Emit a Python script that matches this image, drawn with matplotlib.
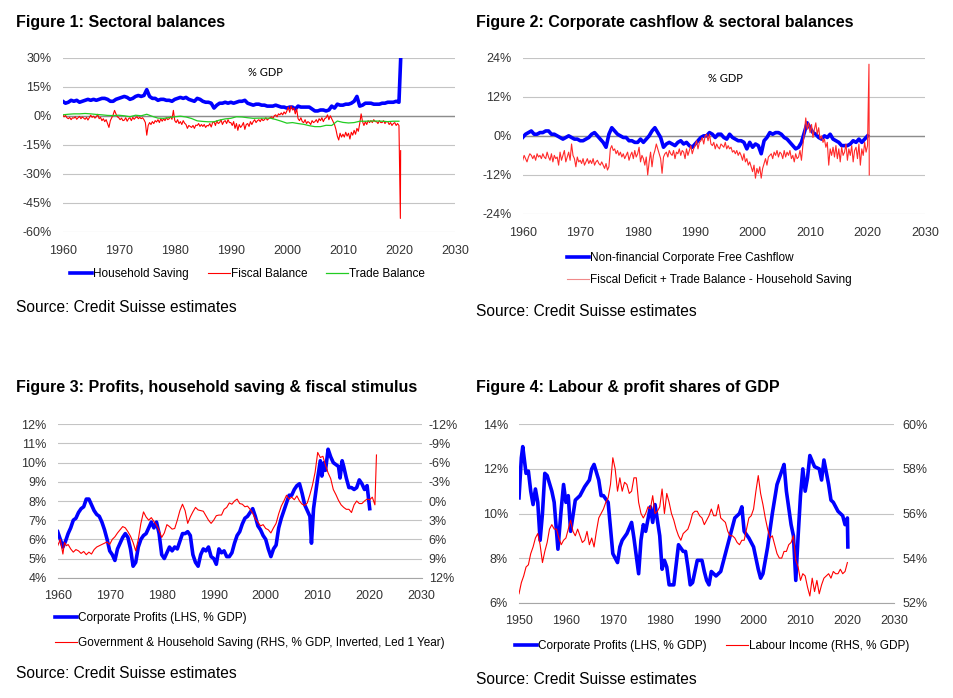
import numpy as np
import matplotlib
matplotlib.use('Agg')
import matplotlib.pyplot as plt
from matplotlib.ticker import FuncFormatter, MultipleLocator

plt.rcParams['font.family'] = ['Liberation Sans', 'DejaVu Sans']

# ---------------- Figure 1: sectoral balances (% GDP) ----------------
hh_saving = [
    7.5, 6.5, 7.0, 8.0, 7.5, 8.0, 7.0, 7.5, 8.0, 8.5,
    8.0, 8.5, 8.0, 8.5, 9.0, 9.0, 8.5, 7.5, 7.5, 8.5,
    9.0, 9.5, 10.0, 9.5, 8.5, 9.0, 10.0, 10.5, 10.0, 10.5,
    13.5, 10.0, 9.0, 9.0, 8.0, 8.5, 8.5, 8.0, 8.0, 7.5,
    8.5, 9.0, 9.5, 9.0, 9.5, 8.5, 8.0, 7.5, 9.0, 8.5,
    7.5, 7.0, 7.0, 6.5, 4.0, 5.5, 6.5, 6.5, 7.0, 6.5,
    7.0, 6.5, 7.0, 7.5, 7.5, 8.0, 6.5, 6.0, 5.5, 6.0,
    6.0, 5.5, 5.5, 5.0, 5.0, 5.0, 5.5, 5.0, 4.5, 4.5,
    4.0, 4.5, 4.5, 3.5, 5.0, 4.5, 4.5, 4.5, 4.5, 3.5,
    2.5, 2.5, 3.0, 3.0, 2.5, 3.0, 5.0, 4.0, 6.0, 5.5,
    5.5, 6.0, 6.0, 6.5, 7.5, 10.0, 5.0, 5.5, 6.5, 6.5,
    6.5, 6.0, 6.0, 6.0, 6.5, 6.5, 7.0, 7.0, 7.0, 7.5,
    7.0, 29.0,
]
hh_t = list(np.arange(1960, 2020.01, 0.5)) + [2020.3]

fiscal_bal = [
    0.5, -0.5, 0.2, -1.0, -1.5, -0.8, -2.0, -1.0, -1.2, -0.5, -1.8, -1.0,
    -0.3, -1.5, -0.6, -1.2, -1.8, -0.8, -2.2, -1.0, 0.3, -0.8, -0.2, -1.2,
    -0.5, 0.8, -1.5, -0.8, -2.5, -1.5, -3.0, -2.0, -4.0, -6.0, -2.5, -1.0,
    0.5, 2.8, 1.0, -0.5, -1.0, -2.0, -1.2, -2.5, -2.2, -1.0, -2.8, -1.5,
    -1.0, -2.5, -0.8, -1.8, -1.0, -0.5, -1.5, -0.8, -1.5, -1.0, -2.0, -3.5,
    -10.0, -5.0, -3.5, -4.5, -3.0, -4.0, -2.5, -3.2, -2.0, -3.5, -1.5, -2.8,
    -1.5, -2.5, -1.0, -2.0, -1.5, -0.5, -1.8, 2.8, -2.5, -3.5, -2.0, -4.0,
    -3.0, -4.5, -2.5, -3.8, -4.5, -6.5, -5.0, -5.5, -6.0, -5.0, -6.5, -4.8,
    -5.0, -4.0, -5.5, -4.5, -5.5, -4.5, -6.0, -5.0, -5.2, -4.0, -5.8, -3.5,
    -3.0, -5.0, -2.5, -4.0, -3.5, -2.0, -4.5, -3.0, -2.5, -4.0, -2.0, -3.5,
    -3.5, -5.0, -3.0, -6.5, -4.0, -7.5, -4.5, -6.0, -5.0, -3.5, -7.0, -4.5,
    -4.0, -5.5, -3.0, -4.5, -3.0, -2.0, -3.5, -2.5, -2.0, -3.0, -1.5, -2.5,
    -2.0, -1.0, -2.2, -1.5, -1.0, -0.5, -1.5, 0.0, 0.5, -0.5, 1.0, 0.5,
    1.5, 0.5, 2.0, 1.0, 2.5, 4.5, 1.8, 5.0, 3.0, 4.0, 1.0, 3.5,
    -1.5, -2.5, -1.0, -3.0, -3.5, -2.0, -4.0, -3.0, -3.5, -4.5, -2.5, -3.5,
    -3.0, -2.0, -3.5, -1.5, -2.5, -1.0, -3.0, -1.5, -1.0, 0.5, -2.0, 0.0,
    -1.5, -3.0, -4.5, -7.0, -10.5, -12.5, -9.0, -11.0, -9.5, -11.0, -8.5, -10.5,
    -9.0, -12.0, -8.5, -10.0, -7.5, -9.5, -6.5, -8.0, -4.0, 1.0, -3.0, -5.0,
    -3.0, -4.5, -2.5, -3.5, -2.5, -3.5, -2.0, -3.0, -3.0, -4.0, -2.5, -3.5,
    -3.5, -2.5, -4.0, -3.0, -3.0, -4.5, -3.5, -5.0, -4.0, -3.5, -5.0, -4.0,
    -5.0, -53.0, -18.0,
]
fiscal_t = list(np.arange(1960, 2020.01, 0.25)) + [2020.25, 2020.3]

trade_bal = [
    0.5, 0.8, 1.0, 1.0, 1.2, 1.0, 0.7, 0.5, 0.2, 0.1,
    0.3, 0.0, -0.5, 0.3, 0.0, 0.8, -0.3, -1.2, -1.3, -0.9,
    -0.5, -0.2, -0.6, -1.4, -2.6, -2.9, -3.1, -3.1, -2.2, -1.6,
    -1.3, -0.5, -0.6, -1.0, -1.3, -1.2, -1.2, -1.2, -1.9, -2.8,
    -3.8, -3.5, -4.0, -4.4, -5.1, -5.6, -5.6, -4.9, -5.0, -2.7,
    -3.4, -3.7, -3.5, -2.8, -2.8, -2.7, -2.7, -2.8, -3.0, -2.8,
    -2.8,
]
trade_t = list(range(1960, 2021))

# ---------------- Figure 2: corporate cashflow ----------------
corp_fcf = [
    -0.5, 0.5, 1.0, 1.5, 0.5, 0.5, 1.0, 1.0, 1.5, 1.5,
    0.5, 0.5, 0.0, -0.5, -1.0, -0.5, 0.0, -0.5, -1.0, -1.0,
    -1.5, -1.5, -1.0, -0.5, 0.5, 1.0, 0.0, -1.0, -2.0, -3.5,
    0.5, 2.5, 1.5, 0.5, 0.0, -0.5, -0.5, -1.5, -1.5, -2.0,
    -2.0, -1.0, -2.0, -1.0, 0.0, 1.5, 2.5, 1.0, -0.5, -3.5,
    -2.5, -2.0, -2.5, -3.0, -2.0, -1.5, -2.5, -2.0, -3.0, -3.5,
    -2.5, -1.5, -0.5, 0.0, 0.0, 1.0, 0.5, -0.5, 0.5, 0.5,
    -0.5, -1.0, 0.5, -0.5, -1.0, -1.5, -1.5, -2.0, -4.0, -2.0,
    -3.5, -2.5, -3.0, -5.5, -1.5, -0.5, 1.0, 0.5, 1.0, 1.0,
    0.5, -0.5, -1.0, -2.0, -3.0, -4.0, -3.5, -2.0, 1.0, 4.0,
    2.5, 1.0, 0.5, -0.5, -1.0, 0.0, -0.5, 0.5, -1.0, -1.5,
    -2.0, -3.0, -3.0, -3.0, -2.5, -1.5, -2.0, -1.0, -2.0, -1.0,
    0.0,
]
fcf_t = list(np.arange(1960, 2020.01, 0.5))

gap_bal = [
    -7.5, -6.0, -7.0, -8.0, -6.5, -5.5, -6.0, -7.0, -6.0, -7.5, -5.5, -6.5,
    -6.0, -7.0, -5.5, -6.5, -7.0, -5.0, -6.5, -7.5, -5.5, -8.0, -6.0, -7.0,
    -6.5, -9.0, -5.0, -7.5, -6.0, -4.5, -8.0, -6.5, -5.0, -7.5, -2.5, -6.0,
    -7.0, -9.5, -6.5, -8.0, -7.5, -8.5, -7.0, -9.0, -8.0, -7.0, -8.5, -7.5,
    -8.5, -7.0, -9.0, -8.0, -7.5, -8.5, -9.0, -8.0, -9.0, -10.0, -8.5, -10.5,
    -9.5, -4.0, -3.0, -4.5, -4.0, -5.5, -4.5, -6.0, -5.0, -6.5, -5.5, -7.0,
    -6.0, -5.0, -7.5, -6.0, -5.0, -7.0, -4.5, -6.5, -5.5, -3.5, -8.0, -6.0,
    -7.0, -9.0, -6.5, -12.0, -8.0, -5.0, -9.5, -6.0, -4.5, -2.5, -4.0, -5.5,
    -7.0, -11.5, -6.5, -5.5, -5.0, -6.5, -4.5, -5.5, -6.0, -4.5, -7.0, -5.0,
    -5.5, -4.0, -6.0, -4.5, -5.0, -7.0, -4.0, -6.0, -4.5, -3.0, -5.5, -4.0,
    -3.0, -1.5, -4.0, -2.0, -1.5, -0.5, -2.5, 0.0, 0.5, -1.5, 0.5, -2.5,
    -3.0, -2.0, -4.0, -2.5, -3.5, -4.0, -2.5, -3.0, -3.5, -2.0, -4.0, -3.0,
    -4.0, -3.5, -5.0, -4.5, -5.5, -4.5, -6.0, -5.0, -6.0, -7.5, -5.5, -8.0,
    -7.0, -9.0, -8.0, -9.5, -11.0, -9.0, -13.0, -10.0, -11.5, -9.5, -13.0, -10.0,
    -8.5, -7.0, -9.0, -6.5, -6.0, -5.5, -7.0, -5.0, -6.0, -4.5, -6.5, -5.0,
    -5.5, -7.0, -4.5, -6.5, -5.0, -6.0, -4.5, -7.0, -6.0, -8.0, -5.5, -7.0,
    -6.5, -4.5, -7.5, -3.0, 1.0, 5.5, 2.0, 4.0, 1.0, 3.5, -0.5, 2.0,
    4.0, 0.5, 2.5, -1.0, 0.0, -2.0, -1.0, -3.5, -2.0, -9.0, -4.0, -6.0,
    -3.5, -6.5, -3.0, -7.0, -4.0, -8.0, -3.5, -6.0, -5.0, -2.5, -7.5, -4.0,
    -6.0, -3.0, -8.0, -4.5, -3.5, -7.0, -2.5, -9.0, -4.0, -6.0, -2.0, -5.0,
    -3.0, 22.0, -12.0,
]
gap_t = list(np.arange(1960, 2020.01, 0.25)) + [2020.25, 2020.3]

# ---------------- Figure 3: profits vs government & household saving ----------------
prof3_t = [
    1960.0, 1960.5, 1961.0, 1961.5, 1962.0, 1962.5, 1963.0, 1963.5, 1964.0, 1964.5,
    1965.0, 1965.5, 1966.0, 1966.5, 1967.0, 1967.5, 1968.0, 1968.5, 1969.0, 1969.5,
    1970.0, 1970.5, 1971.0, 1971.5, 1972.0, 1972.5, 1973.0, 1973.5, 1974.0, 1974.5,
    1975.0, 1975.5, 1976.0, 1976.5, 1977.0, 1977.5, 1978.0, 1978.5, 1979.0, 1979.5,
    1980.0, 1980.5, 1981.0, 1981.5, 1982.0, 1982.5, 1983.0, 1983.5, 1984.0, 1984.5,
    1985.0, 1985.5, 1986.0, 1986.5, 1987.0, 1987.5, 1988.0, 1988.5, 1989.0, 1989.5,
    1990.0, 1990.5, 1991.0, 1991.5, 1992.0, 1992.5, 1993.0, 1993.5, 1994.0, 1994.5,
    1995.0, 1995.5, 1996.0, 1996.5, 1997.0, 1997.5, 1998.0, 1998.5, 1999.0, 1999.5,
    2000.0, 2000.5, 2001.0, 2001.5, 2002.0, 2002.5, 2003.0, 2003.5, 2004.0, 2004.5,
    2005.0, 2005.5, 2006.0, 2006.5, 2007.0, 2007.5, 2008.0, 2008.5, 2008.8, 2009.2,
    2009.5, 2010.0, 2010.5, 2010.8, 2011.2, 2011.5, 2012.0, 2012.5, 2013.0, 2013.5,
    2014.0, 2014.3, 2014.7, 2015.0, 2015.5, 2016.0, 2016.5, 2017.0, 2017.5, 2018.0,
    2018.5, 2019.0, 2019.5, 2020.0,
]
prof3 = [
    6.4, 6.0, 5.6, 5.9, 6.3, 6.6, 7.0, 7.1, 7.4, 7.6,
    7.7, 8.1, 8.1, 7.8, 7.5, 7.3, 7.2, 6.9, 6.5, 6.0,
    5.4, 5.2, 4.9, 5.5, 5.8, 6.1, 6.3, 6.1, 5.5, 4.6,
    4.8, 5.6, 6.0, 6.2, 6.3, 6.6, 6.9, 6.6, 6.9, 6.3,
    5.2, 5.0, 5.3, 5.6, 5.4, 5.6, 5.5, 5.9, 6.3, 6.3,
    6.4, 6.2, 5.2, 4.8, 4.6, 5.2, 5.5, 5.4, 5.6, 5.1,
    5.0, 4.7, 5.5, 5.3, 5.4, 5.1, 5.1, 5.3, 5.8, 6.2,
    6.4, 6.8, 7.1, 7.2, 7.4, 7.6, 7.2, 6.7, 6.5, 6.2,
    6.0, 5.5, 5.1, 5.5, 5.7, 6.6, 7.1, 7.5, 7.9, 8.3,
    8.3, 8.6, 8.8, 8.9, 8.4, 7.8, 7.5, 7.2, 5.8, 7.6,
    8.2, 9.2, 10.1, 9.3, 10.0, 9.6, 10.7, 10.3, 10.0, 9.9,
    9.8, 9.2, 10.1, 9.8, 9.2, 8.7, 8.7, 8.6, 8.7, 9.1,
    8.9, 8.6, 8.8, 7.6,
]

sav3_t = [
    1960.0, 1960.5, 1961.0, 1961.3, 1961.7, 1962.0, 1962.5, 1963.0, 1963.5, 1964.0,
    1964.5, 1965.0, 1965.5, 1966.0, 1966.5, 1967.0, 1967.5, 1968.0, 1968.5, 1969.0,
    1969.5, 1970.0, 1970.5, 1971.0, 1971.5, 1972.0, 1972.5, 1973.0, 1973.5, 1974.0,
    1974.5, 1975.0, 1975.5, 1976.0, 1976.5, 1977.0, 1977.5, 1978.0, 1978.5, 1979.0,
    1979.5, 1980.0, 1980.5, 1981.0, 1981.5, 1982.0, 1982.5, 1983.0, 1983.5, 1984.0,
    1984.5, 1985.0, 1985.5, 1986.0, 1986.5, 1987.0, 1987.5, 1988.0, 1988.5, 1989.0,
    1989.5, 1990.0, 1990.5, 1991.0, 1991.5, 1992.0, 1992.5, 1993.0, 1993.5, 1994.0,
    1994.5, 1995.0, 1995.5, 1996.0, 1996.5, 1997.0, 1997.5, 1998.0, 1998.5, 1999.0,
    1999.5, 2000.0, 2000.5, 2001.0, 2001.5, 2002.0, 2002.5, 2003.0, 2003.5, 2004.0,
    2004.5, 2005.0, 2005.5, 2006.0, 2006.5, 2007.0, 2007.5, 2008.0, 2008.5, 2009.0,
    2009.5, 2010.0, 2010.5, 2011.0, 2011.5, 2012.0, 2012.5, 2013.0, 2013.5, 2014.0,
    2014.5, 2015.0, 2015.5, 2016.0, 2016.5, 2017.0, 2017.5, 2018.0, 2018.5, 2019.0,
    2019.5, 2020.0, 2020.5, 2021.0, 2021.3,
]
sav3 = [
    7.0, 6.0, 8.3, 6.5, 7.0, 6.8, 7.5, 8.0, 7.6, 7.8,
    8.2, 7.9, 8.4, 8.0, 8.3, 7.6, 7.2, 7.0, 6.8, 6.6,
    6.4, 6.8, 6.0, 5.6, 5.0, 4.5, 4.0, 4.2, 4.8, 5.5,
    6.5, 7.8, 6.0, 3.5, 1.7, 2.5, 3.0, 2.6, 3.2, 3.8,
    4.6, 5.7, 5.0, 3.7, 4.0, 4.4, 4.3, 3.0, 1.5, 0.5,
    1.5, 3.5, 2.5, 1.7, 1.0, 1.4, 1.5, 1.6, 2.3, 3.0,
    3.5, 3.0, 2.3, 2.2, 2.2, 1.3, 1.0, 0.3, 0.5, 0.0,
    -0.3, 0.4, 0.5, 0.9, 0.8, 1.3, 1.9, 2.8, 3.3, 3.9,
    3.7, 4.3, 4.5, 5.0, 4.2, 3.5, 2.0, 0.8, 0.0, -0.9,
    -0.3, -0.6, -0.2, -0.8, 0.0, 0.5, 0.7, 0.3, -1.0, -2.5,
    -4.5, -7.6, -6.8, -7.0, -5.6, -4.4, -3.5, -1.8, -1.0, -0.1,
    0.6, 1.0, 1.3, 1.3, 1.8, 0.6, 0.0, 0.4, 0.4, 0.0,
    -0.3, -0.2, -0.6, 0.6, -7.2,
]

# ---------------- Figure 4: labour & profit shares ----------------
prof4_t = [
    1950.0, 1950.5, 1950.8, 1951.5, 1952.0, 1952.5, 1953.0, 1953.5, 1954.0, 1954.5,
    1955.0, 1955.5, 1956.0, 1957.0, 1957.5, 1958.3, 1959.0, 1959.5, 1960.0, 1960.5,
    1961.0, 1962.0, 1963.0, 1964.0, 1965.0, 1965.5, 1966.0, 1967.0, 1967.5, 1968.0,
    1969.0, 1970.0, 1971.0, 1971.5, 1972.0, 1973.0, 1974.0, 1974.5, 1975.5, 1976.0,
    1976.5, 1977.0, 1978.0, 1978.5, 1979.0, 1980.0, 1980.5, 1981.0, 1981.5, 1982.0,
    1983.0, 1984.0, 1985.0, 1985.5, 1986.0, 1986.5, 1987.0, 1988.0, 1989.0, 1989.5,
    1990.0, 1990.5, 1991.0, 1992.0, 1993.0, 1994.0, 1995.0, 1996.0, 1997.0, 1997.5,
    1998.0, 1999.0, 2000.0, 2001.0, 2001.5, 2002.0, 2003.0, 2004.0, 2005.0, 2006.0,
    2006.5, 2007.0, 2008.0, 2008.5, 2009.0, 2009.5, 2010.0, 2010.5, 2011.0, 2011.5,
    2012.0, 2013.0, 2014.0, 2014.5, 2015.0, 2016.0, 2016.5, 2017.0, 2018.0, 2019.0,
    2019.5, 2020.0, 2020.1,
]
prof4 = [
    10.7, 12.5, 13.0, 11.8, 11.9, 11.0, 10.4, 11.1, 10.5, 8.8,
    10.0, 11.8, 11.7, 11.0, 10.5, 8.4, 10.2, 11.3, 10.5, 10.8,
    9.2, 10.6, 10.8, 11.2, 11.5, 12.0, 12.2, 11.5, 10.8, 10.8,
    10.5, 8.2, 7.8, 8.5, 8.8, 9.1, 9.6, 8.9, 7.3, 8.8,
    9.5, 9.2, 10.3, 9.6, 10.4, 9.0, 7.5, 7.9, 7.6, 6.8,
    6.8, 8.6, 8.3, 8.3, 7.6, 6.8, 6.9, 7.9, 7.9, 7.4,
    7.0, 6.8, 7.4, 7.2, 7.4, 8.2, 9.0, 9.8, 10.0, 10.3,
    9.2, 8.9, 8.5, 7.5, 7.1, 7.3, 8.5, 10.0, 11.3, 11.9,
    12.2, 11.0, 9.5, 9.0, 7.0, 9.0, 10.8, 12.0, 11.0, 11.6,
    12.6, 12.1, 12.0, 11.5, 12.4, 11.3, 10.6, 10.5, 10.1, 9.9,
    9.5, 9.8, 8.5,
]

lab4_t = [
    1950.0, 1950.5, 1951.0, 1951.5, 1952.0, 1952.5, 1953.0, 1953.5, 1954.0, 1954.5,
    1955.0, 1955.5, 1956.0, 1956.5, 1957.0, 1957.5, 1958.0, 1958.5, 1959.0, 1959.5,
    1960.0, 1960.5, 1961.0, 1961.5, 1962.0, 1962.5, 1963.0, 1963.5, 1964.0, 1964.5,
    1965.0, 1965.5, 1966.0, 1966.5, 1967.0, 1967.5, 1968.0, 1968.5, 1969.0, 1969.5,
    1970.0, 1970.5, 1971.0, 1971.5, 1972.0, 1972.5, 1973.0, 1973.5, 1974.0, 1974.5,
    1975.0, 1975.5, 1976.0, 1976.5, 1977.0, 1977.5, 1978.0, 1978.5, 1979.0, 1979.5,
    1980.0, 1980.5, 1981.0, 1981.5, 1982.0, 1982.5, 1983.0, 1983.5, 1984.0, 1984.5,
    1985.0, 1985.5, 1986.0, 1986.5, 1987.0, 1987.5, 1988.0, 1988.5, 1989.0, 1989.5,
    1990.0, 1990.5, 1991.0, 1991.5, 1992.0, 1992.5, 1993.0, 1993.5, 1994.0, 1994.5,
    1995.0, 1995.5, 1996.0, 1996.5, 1997.0, 1997.5, 1998.0, 1998.5, 1999.0, 1999.5,
    2000.0, 2000.5, 2001.0, 2001.5, 2002.0, 2002.5, 2003.0, 2003.5, 2004.0, 2004.5,
    2005.0, 2005.5, 2006.0, 2006.5, 2007.0, 2007.5, 2008.0, 2008.5, 2009.0, 2009.5,
    2010.0, 2010.5, 2011.0, 2011.5, 2012.0, 2012.5, 2013.0, 2013.5, 2014.0, 2014.5,
    2015.0, 2015.5, 2016.0, 2016.5, 2017.0, 2017.5, 2018.0, 2018.5, 2019.0, 2019.5,
    2020.0,
]
lab4 = [
    52.4, 52.9, 53.2, 53.6, 53.7, 54.2, 54.5, 54.9, 55.1, 54.6,
    53.8, 54.3, 54.7, 55.3, 55.5, 55.3, 55.3, 54.9, 54.6, 54.8,
    54.9, 55.3, 55.7, 55.2, 55.0, 55.3, 55.0, 54.7, 54.8, 55.2,
    54.6, 54.9, 54.5, 55.2, 55.8, 56.0, 56.2, 56.5, 56.7, 57.3,
    58.5, 58.0, 57.0, 57.6, 57.0, 57.4, 57.3, 56.9, 57.0, 57.6,
    57.6, 56.5, 56.0, 55.8, 56.0, 56.3, 56.2, 56.8, 56.0, 56.1,
    56.3, 57.1, 56.0, 56.9, 56.5, 56.0, 55.7, 55.3, 55.0, 54.8,
    55.1, 55.2, 55.3, 55.6, 56.0, 56.1, 56.1, 55.9, 55.8, 55.5,
    55.7, 55.9, 56.2, 55.9, 55.9, 56.4, 55.8, 55.7, 55.6, 55.2,
    55.0, 55.0, 54.9, 54.7, 54.6, 54.8, 54.8, 55.3, 55.8, 55.9,
    56.2, 57.0, 57.7, 56.9, 56.4, 55.8, 55.3, 54.9, 55.0, 54.6,
    54.2, 54.0, 54.0, 54.3, 54.3, 54.6, 54.7, 55.0, 53.9, 53.6,
    53.0, 53.3, 53.2, 52.7, 52.3, 53.1, 52.5, 53.0, 52.4, 52.8,
    53.1, 53.2, 53.3, 53.1, 53.4, 53.3, 53.3, 53.5, 53.3, 53.4,
    53.8,
]

# ---------------- drawing ----------------
W, H = 954, 698
fig = plt.figure(figsize=(W / 100, H / 100), dpi=100)

BLUE = '#0000ff'
RED = '#ff0000'
GRID = '#c4c4c4'
TICK = '#333333'
LEG_FS = 8.5
pct = FuncFormatter(lambda v, p: f'{v:.0f}%')


def axes_px(left, top, right, bottom):
    return fig.add_axes([left / W, 1 - bottom / H, (right - left) / W, (bottom - top) / H])


def style(ax, x0, x1, zero_line=False):
    ax.set_xlim(x0, x1)
    ax.xaxis.set_major_locator(MultipleLocator(10))
    ax.yaxis.set_major_formatter(pct)
    ax.grid(axis='y', color=GRID, linewidth=0.8)
    ax.set_axisbelow(True)
    for s in ['left', 'right', 'top']:
        ax.spines[s].set_visible(False)
    if zero_line:
        ax.spines['bottom'].set_visible(False)
        ax.axhline(0, color='#8c8c8c', linewidth=1.0, zorder=1)
    else:
        ax.spines['bottom'].set_color('#a6a6a6')
    ax.tick_params(axis='y', length=0, pad=8, labelsize=9, labelcolor=TICK)
    ax.tick_params(axis='x', length=0, pad=9, labelsize=9, labelcolor=TICK)


def title(x, y, text):
    fig.text(x / W, 1 - y / H, text, fontsize=11.5, fontweight='bold', va='baseline')


def source(x, y):
    fig.text(x / W, 1 - y / H, 'Source: Credit Suisse estimates', fontsize=11.2, va='baseline')


def legend(ax, x, y, ncol, spacing, handles=None):
    kw = dict(loc='center left', bbox_to_anchor=(x / W, 1 - y / H), bbox_transform=fig.transFigure,
              ncol=ncol, frameon=False, fontsize=LEG_FS, borderpad=0, borderaxespad=0,
              handlelength=1.9, handletextpad=0.05, columnspacing=1.6, labelspacing=spacing)
    if handles is not None:
        return ax.legend(handles=handles, **kw)
    return ax.legend(**kw)


# Figure 1
title(16, 27, 'Figure 1: Sectoral balances')
ax1 = axes_px(62.7, 57.7, 455, 232)
style(ax1, 1960, 2030, zero_line=True)
ax1.set_ylim(-60, 30)
ax1.yaxis.set_major_locator(MultipleLocator(15))
ax1.plot(hh_t, hh_saving, color=BLUE, linewidth=2.6, label='Household Saving')
ax1.plot(fiscal_t, fiscal_bal, color=RED, linewidth=0.8, label='Fiscal Balance')
ax1.plot(trade_t, trade_bal, color='#22cc22', linewidth=0.9, label='Trade Balance')
ax1.text(265 / W, 1 - 73 / H, '% GDP', transform=fig.transFigure, fontsize=8,
         family=['Lato', 'DejaVu Sans'], ha='center', va='center')
legend(ax1, 70, 274, 3, 0.5)
source(16, 312)

# Figure 2
title(476, 27, 'Figure 2: Corporate cashflow & sectoral balances')
ax2 = axes_px(522.7, 57.7, 925, 214)
style(ax2, 1960, 2030, zero_line=True)
ax2.set_ylim(-24, 24)
ax2.yaxis.set_major_locator(MultipleLocator(12))
ax2.plot(fcf_t, corp_fcf, color=BLUE, linewidth=2.6, label='Non-financial Corporate Free Cashflow')
ax2.plot(gap_t, gap_bal, color='#ff2a2a', linewidth=0.8,
         label='Fiscal Deficit + Trade Balance - Household Saving')
ax2.text(725 / W, 1 - 78 / H, '% GDP', transform=fig.transFigure, fontsize=8,
         family=['Lato', 'DejaVu Sans'], ha='center', va='center')
leg2 = legend(ax2, 567, 269, 1, 0.85)
leg2.legend_handles[1].set_color('#f08a8a')
source(476, 316)

# Figure 3
title(16, 392, 'Figure 3: Profits, household saving & fiscal stimulus')
ax3 = axes_px(57.7, 424.3, 421.7, 577.7)
style(ax3, 1960, 2030)
ax3.set_ylim(4, 12)
ax3.yaxis.set_major_locator(MultipleLocator(1))
ax3r = ax3.twinx()
ax3r.set_ylim(12, -12)
ax3r.yaxis.set_major_locator(MultipleLocator(3))
ax3r.yaxis.set_major_formatter(pct)
for s in ['left', 'right', 'top', 'bottom']:
    ax3r.spines[s].set_visible(False)
ax3r.tick_params(axis='y', length=0, pad=5, labelsize=9, labelcolor=TICK)
l1, = ax3.plot(prof3_t, prof3, color=BLUE, linewidth=2.6, label='Corporate Profits (LHS, % GDP)')
l2, = ax3r.plot(sav3_t, sav3, color=RED, linewidth=0.8,
                label='Government & Household Saving (RHS, % GDP, Inverted, Led 1 Year)')
legend(ax3r, 55, 630.5, 1, 1.1, handles=[l1, l2])
source(16, 678)

# Figure 4
title(476, 392, 'Figure 4: Labour & profit shares of GDP')
ax4 = axes_px(519, 424.3, 894.3, 602.7)
style(ax4, 1950, 2030)
ax4.set_ylim(6, 14)
ax4.yaxis.set_major_locator(MultipleLocator(2))
ax4r = ax4.twinx()
ax4r.set_ylim(52, 60)
ax4r.yaxis.set_major_locator(MultipleLocator(2))
ax4r.yaxis.set_major_formatter(pct)
for s in ['left', 'right', 'top', 'bottom']:
    ax4r.spines[s].set_visible(False)
ax4r.tick_params(axis='y', length=0, pad=6, labelsize=9, labelcolor=TICK)
m1, = ax4.plot(prof4_t, prof4, color=BLUE, linewidth=2.6, label='Corporate Profits (LHS, % GDP)')
m2, = ax4r.plot(lab4_t, lab4, color=RED, linewidth=0.8, label='Labour Income (RHS, % GDP)')
leg4 = legend(ax4r, 515, 646, 2, 0.5, handles=[m1, m2])
source(476, 684)

fig.savefig('out.png', dpi=100)
